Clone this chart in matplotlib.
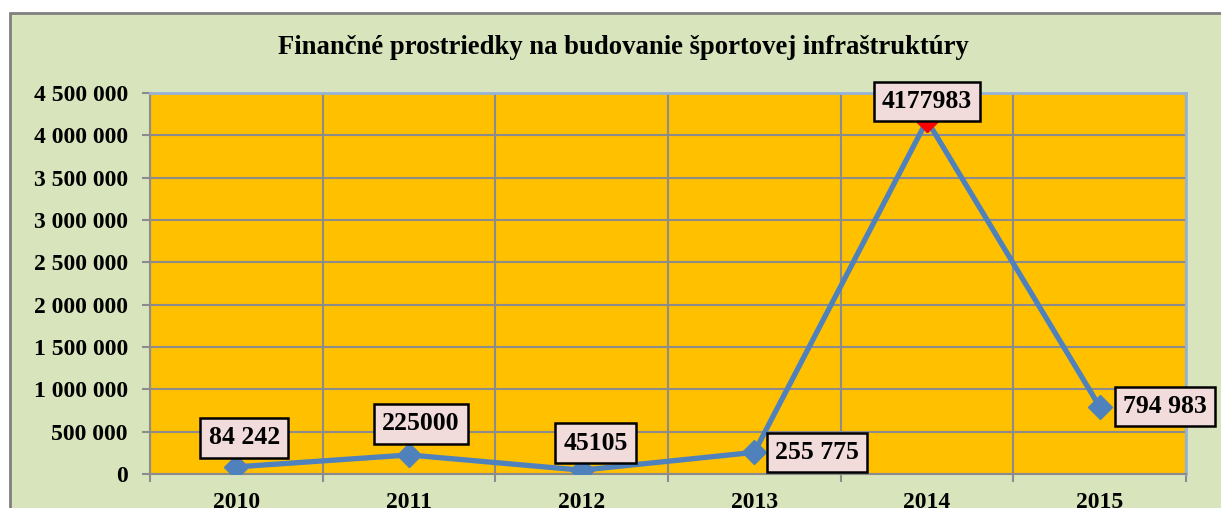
import numpy as np
import matplotlib.pyplot as plt
from matplotlib.patches import Rectangle
from matplotlib.ticker import FuncFormatter, MultipleLocator, FixedLocator

# data
years = ['2010', '2011', '2012', '2013', '2014', '2015']
values = [84242, 225000, 45105, 255775, 4177983, 794983]
labels = ['84 242', '225000', '45105', '255 775', '4177983', '794 983']
# label offsets in pixels (label centre relative to point)
offsets = [(8, 29), (12, 31), (14, 27), (63, 0), (0, 19), (65, 0)]

plt.rcParams['font.family'] = ['Liberation Serif', 'DejaVu Serif']
plt.rcParams['font.weight'] = 'bold'

fig = plt.figure(figsize=(12.21, 5.08), dpi=100)
fig.patch.set_facecolor('white')

# chart area background
bg = Rectangle((10 / 1221, -0.05), 1.1, (508 - 13) / 508 + 0.05, transform=fig.transFigure,
               facecolor='#D8E4BC', edgecolor='#808080', linewidth=2, zorder=-10)
fig.patches.append(bg)

fig.text(623 / 1221, (508 - 48) / 508, 'Finančné prostriedky na budovanie športovej infraštruktúry',
         ha='center', va='center', fontsize=19.2, fontweight='bold')

ax = fig.add_axes([150 / 1221, 34 / 508, 1036 / 1221, 381 / 508])
ax.set_zorder(1)
ax.set_facecolor('#FFC000')

x = np.arange(len(years))
ax.plot(x, values, color='#4F81BD', linewidth=3.8, marker='D', markersize=12,
        markerfacecolor='#4F81BD', markeredgecolor='#4F81BD', zorder=3)
# red marker for 2014
ax.plot(x[4], values[4], marker='D', markersize=12, color='red', zorder=3.5)

ax.set_xlim(-0.5, len(years) - 0.5)
ax.set_ylim(0, 4500000)

ax.yaxis.set_major_locator(MultipleLocator(500000))
ax.yaxis.set_major_formatter(FuncFormatter(lambda v, p: '{:,.0f}'.format(v).replace(',', ' ')))
ax.set_xticks(x)
ax.set_xticklabels(years)
ax.xaxis.set_minor_locator(FixedLocator(np.arange(-0.5, len(years), 1.0)))

ax.tick_params(axis='x', which='major', length=0, pad=13, labelsize=17)
ax.tick_params(axis='x', which='minor', length=6, width=1.5, color='#8C8C8C', direction='out')
ax.tick_params(axis='y', length=6, width=1.5, color='#8C8C8C', labelsize=17, pad=10)
for lab in ax.get_xticklabels() + ax.get_yticklabels():
    lab.set_fontweight('bold')

ax.grid(axis='y', which='major', color='#8C8C8C', linewidth=1.5)
ax.grid(axis='x', which='minor', color='#8C8C8C', linewidth=1.5)
ax.set_axisbelow(True)

ax.spines['left'].set_color('#8C8C8C')
ax.spines['bottom'].set_color('#8C8C8C')
ax.spines['left'].set_linewidth(1.5)
ax.spines['bottom'].set_linewidth(1.5)
ax.spines['top'].set_color('#95B3D7')
ax.spines['right'].set_color('#95B3D7')
ax.spines['top'].set_linewidth(2)
ax.spines['right'].set_linewidth(2)

for i, (lab, off) in enumerate(zip(labels, offsets)):
    ax.annotate(lab, (x[i], values[i]), xytext=off, textcoords='offset pixels',
                ha='center', va='center', fontsize=18.5, fontweight='bold', zorder=5,
                bbox=dict(boxstyle='square,pad=0.32', facecolor='#F2DCDB',
                          edgecolor='black', linewidth=1.8),
                annotation_clip=False)

fig.savefig('out.png', dpi=100)
